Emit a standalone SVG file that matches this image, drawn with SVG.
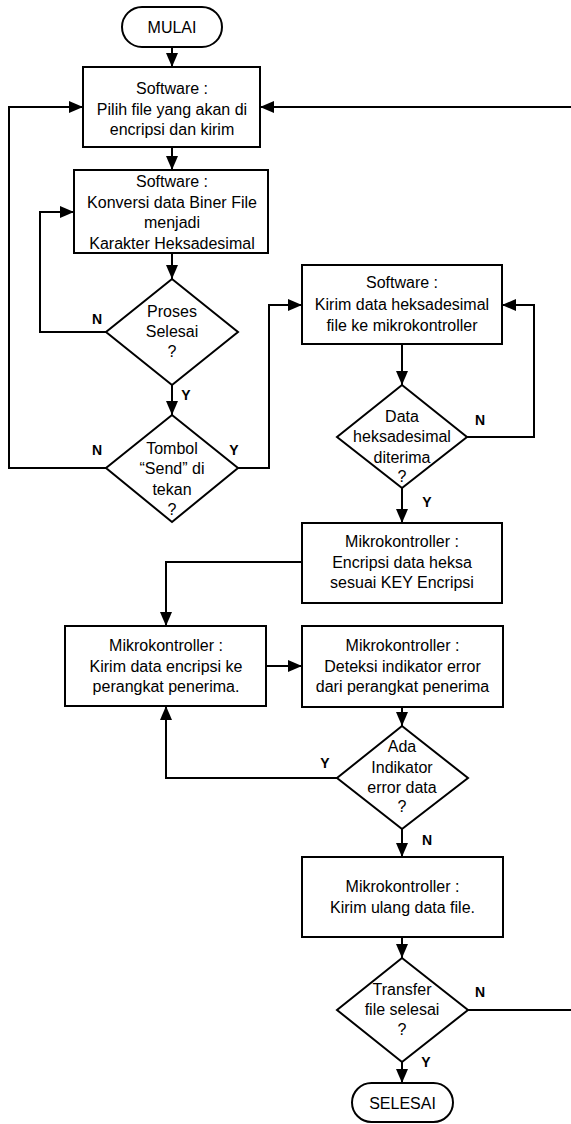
<svg xmlns="http://www.w3.org/2000/svg" width="571" height="1124" viewBox="0 0 571 1124">
<style>
.s{fill:#fff;stroke:#000;stroke-width:2}
.t{font-family:"Liberation Sans",Arial,sans-serif;font-size:16px;text-anchor:middle;fill:#000}
.l{font-family:"Liberation Sans",Arial,sans-serif;font-size:14px;font-weight:bold;text-anchor:middle;fill:#000}
.c{fill:none;stroke:#000;stroke-width:2}
.a{marker-end:url(#ah)}
</style>
<defs>
<marker id="ah" markerUnits="userSpaceOnUse" markerWidth="14" markerHeight="12" refX="14" refY="6" orient="auto">
<path d="M0,0 L14,6 L0,12 z" fill="#000"/>
</marker>
</defs>
<rect width="571" height="1124" fill="#fff"/>
<g id="connectors">
<path class="c a" d="M172,47 V67"/>
<path class="c a" d="M172,147 V170"/>
<path class="c a" d="M172,253 V279"/>
<path class="c a" d="M106,332 H40 V212 H74"/>
<path class="c a" d="M172,385 V415"/>
<path class="c a" d="M106,468 H9 V107 H83"/>
<path class="c a" d="M238,468 H269 V305 H302"/>
<path class="c a" d="M402,344 V385"/>
<path class="c a" d="M467,437 H534 V305 H502"/>
<path class="c a" d="M402,488 V523"/>
<path class="c a" d="M302,562 H166 V626"/>
<path class="c a" d="M266,666 H302"/>
<path class="c a" d="M402,707 V726"/>
<path class="c a" d="M337,778 H166 V706"/>
<path class="c a" d="M402,829 V857"/>
<path class="c a" d="M402,937 V958"/>
<path class="c a" d="M468,1010 H580 V107 H260"/>
<path class="c a" d="M402,1062 V1083"/>
<text class="l" x="97" y="324">N</text>
<text class="l" x="186" y="400">Y</text>
<text class="l" x="97" y="455">N</text>
<text class="l" x="234" y="455">Y</text>
<text class="l" x="480" y="425">N</text>
<text class="l" x="427" y="507">Y</text>
<text class="l" x="325" y="768">Y</text>
<text class="l" x="427" y="845">N</text>
<text class="l" x="480" y="997">N</text>
<text class="l" x="426" y="1067">Y</text>
</g>
<g id="mulai">
<rect class="s" x="122" y="7" width="100" height="40" rx="20"/>
<text class="t" x="172" y="33">MULAI</text>
</g>
<g id="pilih">
<rect class="s" x="83" y="67" width="177" height="80"/>
<text class="t" x="172" y="94">Software :</text>
<text class="t" x="172" y="114.5">Pilih file yang akan di</text>
<text class="t" x="172" y="135">encripsi dan kirim</text>
</g>
<g id="konversi">
<rect class="s" x="74" y="170" width="194" height="83"/>
<text class="t" x="172" y="187">Software :</text>
<text class="t" x="172" y="207.5">Konversi data Biner File</text>
<text class="t" x="172" y="228">menjadi</text>
<text class="t" x="172" y="248.5">Karakter Heksadesimal</text>
</g>
<g id="proses">
<polygon class="s" points="172,279 238,332 172,385 106,332"/>
<text class="t" x="172" y="317">Proses</text>
<text class="t" x="172" y="337">Selesai</text>
<text class="t" x="172" y="357">?</text>
</g>
<g id="tombol">
<polygon class="s" points="172,415 238,468 172,522 106,468"/>
<text class="t" x="172" y="454">Tombol</text>
<text class="t" x="172" y="474">“Send” di</text>
<text class="t" x="172" y="495">tekan</text>
<text class="t" x="172" y="515">?</text>
</g>
<g id="kirimheks">
<rect class="s" x="302" y="265" width="200" height="79"/>
<text class="t" x="402" y="288">Software :</text>
<text class="t" x="402" y="310">Kirim data heksadesimal</text>
<text class="t" x="402" y="331">file ke mikrokontroller</text>
</g>
<g id="diterima">
<polygon class="s" points="402,385 467,437 402,488 337,437"/>
<text class="t" x="402" y="422">Data</text>
<text class="t" x="402" y="442">heksadesimal</text>
<text class="t" x="402" y="463">diterima</text>
<text class="t" x="402" y="482">?</text>
</g>
<g id="encripsi">
<rect class="s" x="302" y="523" width="200" height="80"/>
<text class="t" x="402" y="547">Mikrokontroller :</text>
<text class="t" x="402" y="568">Encripsi data heksa</text>
<text class="t" x="402" y="588">sesuai KEY Encripsi</text>
</g>
<g id="kirimenc">
<rect class="s" x="65" y="626" width="201" height="80"/>
<text class="t" x="166" y="651">Mikrokontroller :</text>
<text class="t" x="166" y="672">Kirim data encripsi ke</text>
<text class="t" x="166" y="692">perangkat penerima.</text>
</g>
<g id="deteksi">
<rect class="s" x="302" y="626" width="201" height="81"/>
<text class="t" x="402.5" y="651">Mikrokontroller :</text>
<text class="t" x="402.5" y="672">Deteksi indikator error</text>
<text class="t" x="402.5" y="692">dari perangkat penerima</text>
</g>
<g id="indikator">
<polygon class="s" points="402,726 468,778 402,829 337,778"/>
<text class="t" x="402" y="752">Ada</text>
<text class="t" x="402" y="773">Indikator</text>
<text class="t" x="402" y="793">error data</text>
<text class="t" x="402" y="812">?</text>
</g>
<g id="ulang">
<rect class="s" x="302" y="857" width="201" height="80"/>
<text class="t" x="402.5" y="892">Mikrokontroller :</text>
<text class="t" x="402.5" y="913">Kirim ulang data file.</text>
</g>
<g id="transfer">
<polygon class="s" points="402,958 468,1010 402,1062 337,1010"/>
<text class="t" x="402" y="995">Transfer</text>
<text class="t" x="402" y="1015">file selesai</text>
<text class="t" x="402" y="1035">?</text>
</g>
<g id="selesai">
<rect class="s" x="352" y="1083" width="101" height="39" rx="19.5"/>
<text class="t" x="402.5" y="1109">SELESAI</text>
</g>
</svg>
